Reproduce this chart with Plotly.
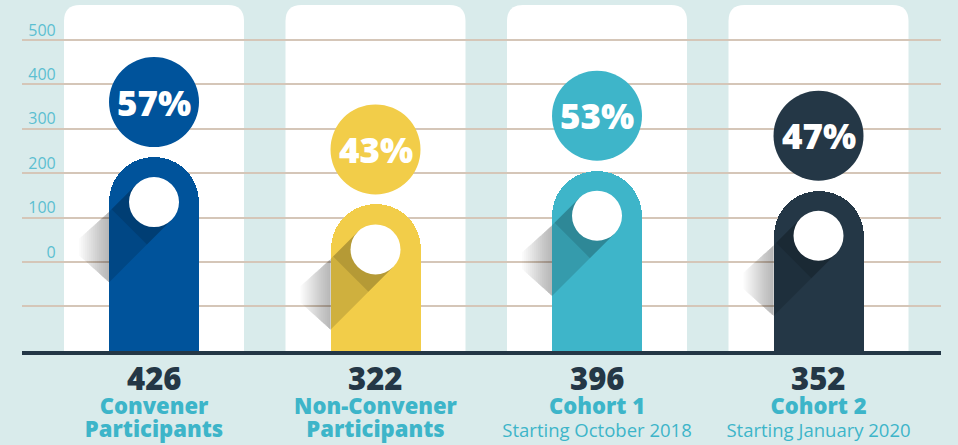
import plotly.graph_objects as go

# ---------------- data ----------------
categories = ["Convener Participants", "Non-Convener Participants", "Cohort 1", "Cohort 2"]
name_lines = [["Convener", "Participants"], ["Non-Convener", "Participants"], ["Cohort 1"], ["Cohort 2"]]
subtitles = ["", "", "Starting October 2018", "Starting January 2020"]
counts = [426, 322, 396, 352]
percents = ["57%", "43%", "53%", "47%"]
colors = ["#00539b", "#f2cd49", "#3eb5c9", "#243746"]
grid_tick_vals = [-100, 0, 100, 200, 300, 400, 500]
grid_tick_text = ["", "0", "100", "200", "300", "400", "500"]

# ---------------- style ----------------
BG = "#d9ebeb"
DARK = "#243746"
TEAL = "#3db5c9"
AXIS_TEAL = "#5cbfd1"
GRID = "#d5c6b8"
FONT = "Open Sans"

W, H = 958, 445
ML, MR, MT, MB = 22, 17, 0, 94
xpos = list(range(len(categories)))
x_range = [-0.596, 3.553]
px_per_x = (W - ML - MR) / (x_range[1] - x_range[0])
bar_w_px = 90

fig = go.Figure()

fig.add_trace(go.Bar(
    x=xpos, y=counts, width=bar_w_px / px_per_x,
    marker=dict(color=colors, cornerradius="50%", line_width=0),
    hoverinfo="skip", showlegend=False,
))
# carrier trace for the decorative scale axis
fig.add_trace(go.Scatter(x=[xpos[0]], y=[0], yaxis="y2", mode="markers",
                         marker=dict(opacity=0), hoverinfo="skip", showlegend=False))


def poly(pts):
    # pts in screen offsets (y down) -> plotly pixel path (y up)
    return "M" + " L".join(f"{x:.2f},{-y:.2f}" for x, y in pts) + " Z"


shapes = []
annotations = []
r_in = 25.0
c_in = 45.0
k = 0.70711
P1 = (-r_in * k, c_in - r_in * k)
P2 = (r_in * k, c_in + r_in * k)
P4 = (-45.0, P1[1] + (45.0 + P1[0]))
P3 = (-45.0, P2[1] + (45.0 + P2[0]))
d = 35 * k
P1b = (P1[0] - d, P1[1] + d)
P2b = (P2[0] - d, P2[1] + d)

for i in xpos:
    # white panel
    shapes.append(dict(
        type="path", layer="below", xref="x", yref="y",
        xsizemode="pixel", ysizemode="pixel", xanchor=i, yanchor=0,
        path="M-90,0 L-90,330 Q-90,346 -74,346 L74,346 Q90,346 90,330 L90,0 Z",
        fillcolor="white", line=dict(width=0),
    ))
    anchor = dict(xref="x", yref="y", xsizemode="pixel", ysizemode="pixel",
                  xanchor=i, yanchor=counts[i], line=dict(width=0), layer="above")
    # soft outer shadow (layered to fake a blur)
    for kk in range(1, 16):
        e = 45 + 2.0 * kk
        pts = [P4, (-e, P4[1] + (e - 45) * 0.9), (-e, P3[1] - 0.9 * (e - 45)), P3]
        shapes.append(dict(type="path", path=poly(pts), fillcolor="rgba(0,0,0,0.021)", **anchor))
    # long shadow inside the body
    shapes.append(dict(type="path", path=poly([P1, P2, P3, P4]), fillcolor="rgba(0,0,0,0.14)", **anchor))
    shapes.append(dict(type="path", path=poly([P1, P2, P2b, P1b]), fillcolor="rgba(0,0,0,0.12)", **anchor))
    # head circle
    shapes.append(dict(type="circle", x0=-45, x1=45, y0=10, y1=100, fillcolor=colors[i], **anchor))
    # white dot
    shapes.append(dict(type="circle", x0=-25, x1=25, y0=-70, y1=-20, fillcolor="white", **anchor))
    annotations.append(dict(
        x=i, y=counts[i], xref="x", yref="y", yshift=55, showarrow=False,
        text=percents[i], font=dict(family=FONT, size=35, color="white", weight=800),
    ))
    # count label under the baseline
    annotations.append(dict(
        x=i, y=0, xref="x", yref="y", yanchor="top", yshift=-4, showarrow=False,
        text=str(counts[i]), font=dict(family=FONT, size=31, color=DARK, weight=800),
    ))

ticktext = []
for i in xpos:
    parts = [f"<span style='font-size:22px;font-weight:800'>{l}</span>" for l in name_lines[i]]
    if subtitles[i]:
        parts.append(f"<span style='font-size:18.5px'>{subtitles[i]}</span>")
    ticktext.append("<br>".join(parts))

fig.update_layout(
    width=W, height=H,
    margin=dict(l=ML, r=MR, t=MT, b=MB, pad=0, autoexpand=False),
    paper_bgcolor=BG, plot_bgcolor=BG,
    font=dict(family=FONT),
    bargap=0,
    xaxis=dict(
        range=x_range, tickvals=xpos, ticktext=ticktext,
        tickfont=dict(family=FONT, size=18, color=TEAL),
        showgrid=False, zeroline=False, showline=True, linecolor=DARK, linewidth=4,
        ticks="", ticklabelstandoff=37, fixedrange=True, automargin=False,
    ),
    yaxis=dict(range=[0, 771], visible=False, showgrid=False, zeroline=False, fixedrange=True),
    yaxis2=dict(
        overlaying="y", anchor="free", position=0.0367, side="left",
        range=[-200.8, 590.2], tickvals=grid_tick_vals, ticktext=grid_tick_text,
        tickfont=dict(family=FONT, size=16, color=AXIS_TEAL),
        showgrid=True, gridcolor=GRID, gridwidth=2, zeroline=False, showline=False,
        ticks="", ticklabelshift=-10, fixedrange=True, automargin=False,
    ),
    shapes=shapes,
    annotations=annotations,
    showlegend=False,
)

fig.write_html("out.html", config={"displayModeBar": False},
               post_script="document.body.style.margin='0px';")
